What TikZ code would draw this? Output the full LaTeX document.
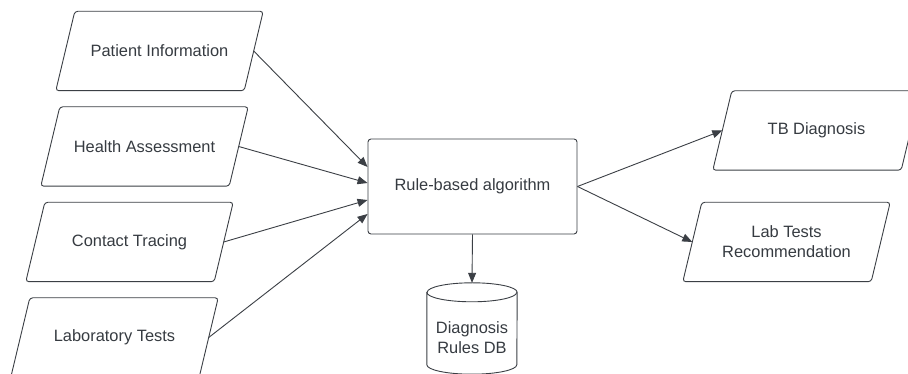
\documentclass[tikz,border=0pt]{standalone}
\usepackage{fontspec}
\setmainfont{Liberation Sans}
\usetikzlibrary{arrows.meta}
\definecolor{linec}{HTML}{3B3F45}
\definecolor{textc}{HTML}{363B41}
\newcommand{\myparabox}[3]{%
  \node[parabody] (#1) at (#2) {#3};
  \draw[paraline] ([xshift=-9.5pt]#1.south west) -- ([xshift=9.5pt]#1.north west)
    -- ([xshift=9.5pt]#1.north east) -- ([xshift=-9.5pt]#1.south east) -- cycle;}
\begin{document}
\begin{tikzpicture}[x=1pt,y=1pt,
  every node/.style={text=textc,font=\fontsize{16.4}{20}\selectfont},
  parabody/.style={rectangle, minimum width=188pt, minimum height=79pt,
    inner sep=0pt, align=center},
  paraline/.style={draw=linec, line width=0.9pt, rounded corners=3pt},
  procbox/.style={rectangle, draw=linec, line width=0.9pt, rounded corners=3pt,
    minimum width=209pt, minimum height=95pt, inner sep=0pt},
  dbshape/.style={rectangle, minimum width=90pt, minimum height=91pt, inner sep=0pt},
  dbtext/.style={align=center, inner sep=0pt},
  conn/.style={draw=linec, line width=0.9pt, -{Triangle[length=10pt,width=8pt]}}
]
\useasboundingbox (0,0) rectangle (908,374);
\fill[white] (0,0) rectangle (908,374);

\myparabox{pi}{159.5,323}{Patient Information}
\myparabox{ha}{144.5,227.5}{Health Assessment}
\myparabox{ct}{129.5,132}{Contact Tracing}
\myparabox{lt}{114.5,36.5}{Laboratory Tests}

\node[procbox] (rule) at (472.5,187.5) {Rule-based algorithm};

\myparabox{tb}{816.5,243.5}{TB Diagnosis}
\myparabox{lr}{786.5,132}{Lab Tests\\Recommendation}

\node[dbshape] (db) at (472,45.5) {};
\draw[linec, line width=0.9pt]
  ([yshift=-9.5pt]db.north west) -- ([yshift=9.5pt]db.south west)
  arc[start angle=180, end angle=360, x radius=45pt, y radius=9.5pt]
  -- ([yshift=-9.5pt]db.north east)
  arc[start angle=0, end angle=180, x radius=45pt, y radius=9.5pt] -- cycle;
\draw[linec, line width=0.9pt] ([yshift=-9.5pt]db.north west)
  arc[start angle=180, end angle=360, x radius=45pt, y radius=9.5pt];
\node[dbtext] (dbt) at (472,36.5) {Diagnosis\\Rules DB};

\draw[conn] (pi.east) -- ([yshift=19.5pt]rule.west);
\draw[conn] (ha.east) -- ([yshift=3.5pt]rule.west);
\draw[conn] (ct.east) -- ([yshift=-13.5pt]rule.west);
\draw[conn] (lt.east) -- ([yshift=-27.5pt]rule.west);
\draw[conn] (rule.south) -- (db.north);
\draw[conn] (rule.east) -- (tb.west);
\draw[conn] (rule.east) -- (lr.west);
\end{tikzpicture}
\end{document}
